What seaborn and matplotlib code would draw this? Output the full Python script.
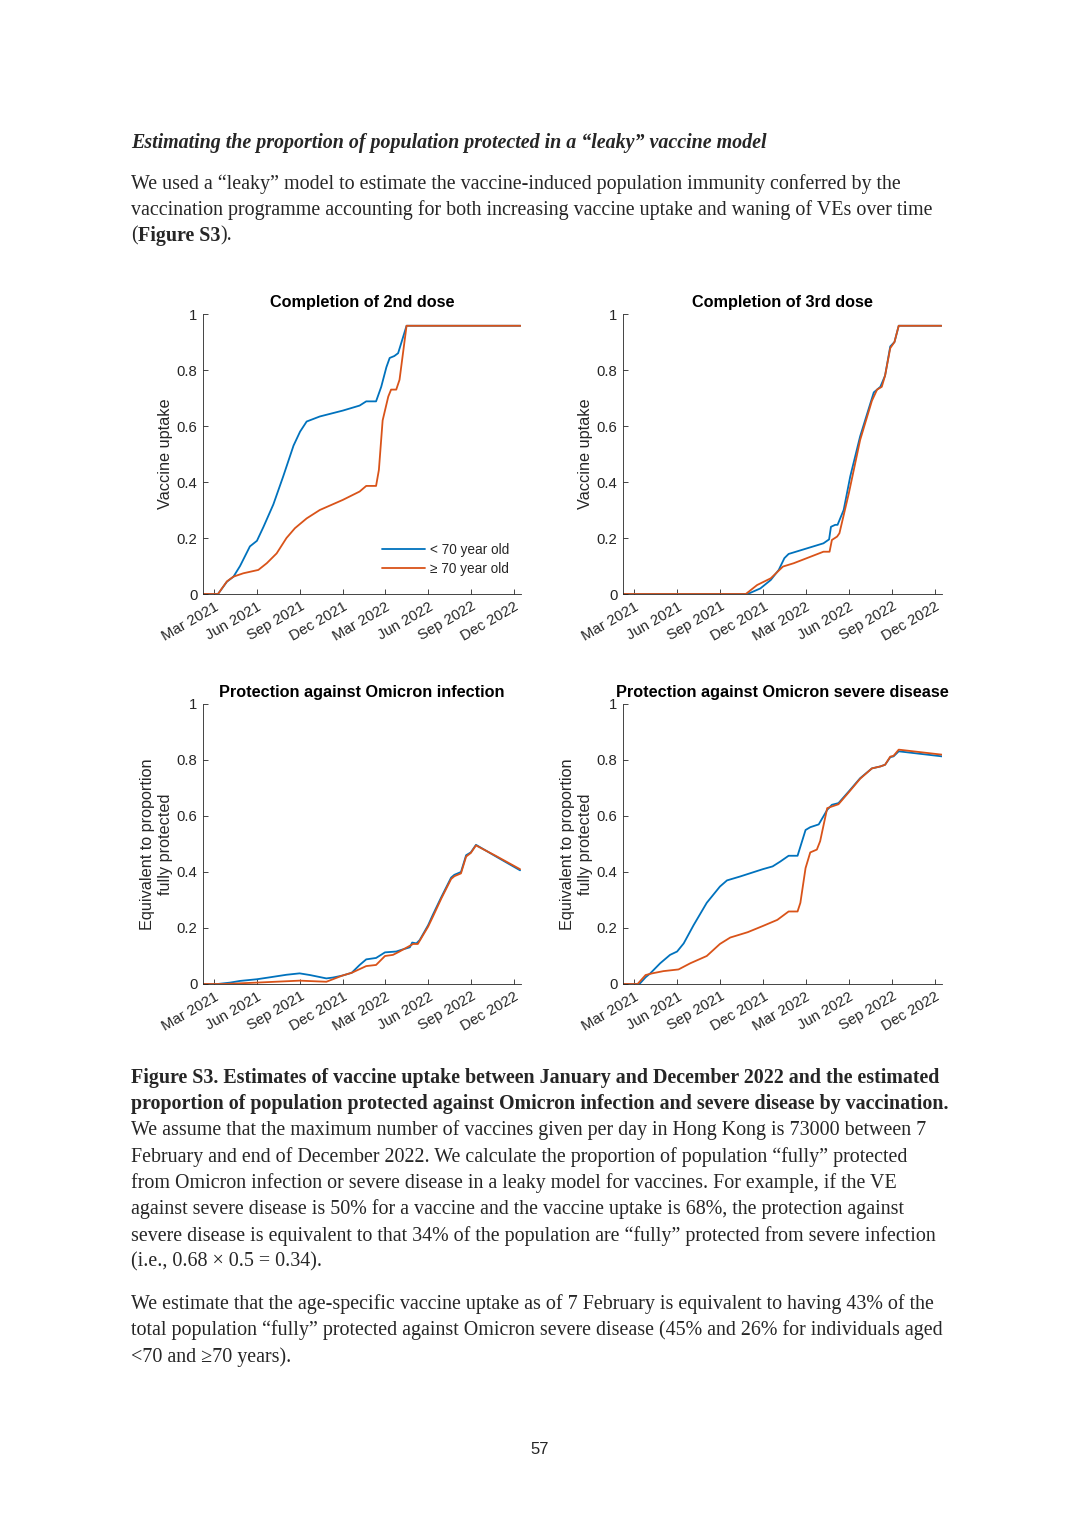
import pandas as pd
import matplotlib
matplotlib.use("Agg")
import matplotlib.pyplot as plt
import matplotlib.dates as mdates
import seaborn as sns

# ---- data (dates, proportion) ----
groups = ["< 70 year old", "\u2265 70 year old"]

dose2_lt70_dates = ["2021-02-06", "2021-03-10", "2021-03-29", "2021-04-12", "2021-04-26", "2021-05-17",
                    "2021-06-01", "2021-06-15", "2021-07-06", "2021-07-27", "2021-08-18", "2021-09-01",
                    "2021-09-15", "2021-10-13", "2021-12-01", "2022-01-06", "2022-01-20", "2022-02-10",
                    "2022-02-21", "2022-03-04", "2022-03-11", "2022-03-21", "2022-03-29", "2022-04-16",
                    "2022-12-15"]
dose2_lt70 = [0, 0, 0.044, 0.062, 0.10, 0.17, 0.19, 0.24, 0.32, 0.42, 0.53, 0.58, 0.616, 0.634, 0.655,
              0.673, 0.688, 0.688, 0.74, 0.81, 0.843, 0.85, 0.86, 0.958, 0.958]
dose2_ge70_dates = ["2021-02-06", "2021-03-10", "2021-03-29", "2021-04-12", "2021-05-03", "2021-06-04",
                    "2021-06-22", "2021-07-13", "2021-08-03", "2021-08-21", "2021-09-15", "2021-10-13",
                    "2021-12-01", "2022-01-06", "2022-01-20", "2022-02-10", "2022-02-16", "2022-02-24",
                    "2022-03-08", "2022-03-14", "2022-03-25", "2022-04-01", "2022-04-16", "2022-12-15"]
dose2_ge70 = [0, 0, 0.045, 0.062, 0.074, 0.086, 0.11, 0.145, 0.20, 0.235, 0.27, 0.30, 0.336, 0.366,
              0.386, 0.386, 0.443, 0.62, 0.705, 0.73, 0.73, 0.765, 0.958, 0.958]

dose3_lt70_dates = ["2021-02-06", "2021-10-29", "2021-11-25", "2021-12-17", "2022-01-03", "2022-01-15",
                    "2022-01-24", "2022-04-08", "2022-04-20", "2022-04-24", "2022-05-03", "2022-05-08",
                    "2022-05-21", "2022-06-04", "2022-06-25", "2022-07-24", "2022-08-07", "2022-08-17",
                    "2022-08-28", "2022-09-06", "2022-09-15", "2022-12-15"]
dose3_lt70 = [0, 0, 0.02, 0.05, 0.086, 0.128, 0.143, 0.181, 0.195, 0.24, 0.247, 0.247, 0.30, 0.42,
              0.563, 0.72, 0.74, 0.78, 0.884, 0.90, 0.958, 0.958]
dose3_ge70_dates = ["2021-02-06", "2021-10-25", "2021-11-18", "2021-12-17", "2022-01-12", "2022-02-04",
                    "2022-04-08", "2022-04-21", "2022-04-26", "2022-05-07", "2022-05-12", "2022-06-01",
                    "2022-06-25", "2022-07-20", "2022-07-31", "2022-08-10", "2022-08-17", "2022-08-28",
                    "2022-09-06", "2022-09-15", "2022-12-15"]
dose3_ge70 = [0, 0, 0.032, 0.056, 0.098, 0.11, 0.151, 0.151, 0.193, 0.205, 0.217, 0.36, 0.55, 0.69,
              0.73, 0.74, 0.78, 0.878, 0.90, 0.958, 0.958]

inf_lt70_dates = ["2021-02-06", "2021-03-09", "2021-04-05", "2021-04-26", "2021-06-01", "2021-06-29",
                  "2021-08-03", "2021-08-31", "2021-09-22", "2021-10-27", "2021-11-10", "2021-11-30",
                  "2021-12-20", "2022-01-06", "2022-01-20", "2022-02-10", "2022-03-01", "2022-03-25",
                  "2022-04-05", "2022-04-23", "2022-04-28", "2022-05-07", "2022-05-14", "2022-06-01",
                  "2022-06-11", "2022-06-29", "2022-07-20", "2022-07-27", "2022-08-10", "2022-08-21",
                  "2022-08-31", "2022-09-11", "2022-10-24", "2022-12-14"]
inf_lt70 = [0, 0, 0.005, 0.011, 0.017, 0.024, 0.033, 0.038, 0.032, 0.02, 0.023, 0.03, 0.04, 0.068,
            0.088, 0.093, 0.113, 0.116, 0.122, 0.131, 0.148, 0.145, 0.157, 0.21, 0.247, 0.31, 0.38,
            0.39, 0.40, 0.46, 0.47, 0.497, 0.455, 0.406]
inf_ge70_dates = ["2021-02-06", "2021-03-22", "2021-06-01", "2021-08-31", "2021-10-27", "2021-11-30",
                  "2021-12-20", "2022-01-20", "2022-02-10", "2022-03-01", "2022-03-18", "2022-04-01",
                  "2022-04-16", "2022-04-30", "2022-05-10", "2022-06-01", "2022-06-11", "2022-06-29",
                  "2022-07-20", "2022-07-27", "2022-08-10", "2022-08-21", "2022-08-31", "2022-09-11",
                  "2022-10-24", "2022-12-14"]
inf_ge70 = [0, 0, 0.005, 0.012, 0.008, 0.03, 0.04, 0.064, 0.068, 0.10, 0.104, 0.116, 0.13, 0.143,
            0.143, 0.205, 0.24, 0.305, 0.375, 0.385, 0.395, 0.455, 0.468, 0.495, 0.457, 0.41]

sev_lt70_dates = ["2021-02-06", "2021-03-13", "2021-03-26", "2021-04-05", "2021-04-26", "2021-05-17",
                  "2021-06-01", "2021-06-15", "2021-07-06", "2021-08-03", "2021-08-31", "2021-09-15",
                  "2021-10-13", "2021-11-30", "2021-12-21", "2022-01-06", "2022-01-24", "2022-02-12",
                  "2022-03-01", "2022-03-11", "2022-03-29", "2022-04-16", "2022-04-26", "2022-05-10",
                  "2022-06-01", "2022-06-25", "2022-07-20", "2022-08-07", "2022-08-17", "2022-08-28",
                  "2022-09-04", "2022-09-15", "2022-12-16"]
sev_lt70 = [0, 0, 0.024, 0.038, 0.074, 0.104, 0.116, 0.145, 0.21, 0.29, 0.348, 0.37, 0.384, 0.41,
            0.42, 0.437, 0.458, 0.458, 0.55, 0.56, 0.57, 0.622, 0.64, 0.646, 0.688, 0.735, 0.77,
            0.777, 0.783, 0.81, 0.813, 0.831, 0.813]
sev_ge70_dates = ["2021-02-06", "2021-03-09", "2021-03-26", "2021-04-09", "2021-05-03", "2021-06-04",
                  "2021-06-29", "2021-08-03", "2021-08-31", "2021-09-22", "2021-10-29", "2021-11-30",
                  "2021-12-31", "2022-01-24", "2022-02-12", "2022-02-18", "2022-03-01", "2022-03-11",
                  "2022-03-25", "2022-04-01", "2022-04-16", "2022-04-26", "2022-05-10", "2022-06-01",
                  "2022-06-25", "2022-07-20", "2022-08-07", "2022-08-17", "2022-08-28", "2022-09-04",
                  "2022-09-15", "2022-12-16"]
sev_ge70 = [0, 0, 0.032, 0.038, 0.046, 0.052, 0.074, 0.10, 0.143, 0.166, 0.185, 0.207, 0.229, 0.259,
            0.259, 0.29, 0.414, 0.47, 0.48, 0.51, 0.628, 0.634, 0.642, 0.685, 0.733, 0.77, 0.777,
            0.783, 0.812, 0.815, 0.837, 0.819]

titles = ["Completion of 2nd dose", "Completion of 3rd dose",
          "Protection against Omicron infection", "Protection against Omicron severe disease"]
ylabels = ["Vaccine uptake", "Vaccine uptake",
           "Equivalent to proportion\nfully protected", "Equivalent to proportion\nfully protected"]
yticks = [0, 0.2, 0.4, 0.6, 0.8, 1]
ytick_labels = ["0", "0.2", "0.4", "0.6", "0.8", "1"]

panels = [
    (dose2_lt70_dates, dose2_lt70, dose2_ge70_dates, dose2_ge70),
    (dose3_lt70_dates, dose3_lt70, dose3_ge70_dates, dose3_ge70),
    (inf_lt70_dates, inf_lt70, inf_ge70_dates, inf_ge70),
    (sev_lt70_dates, sev_lt70, sev_ge70_dates, sev_ge70),
]

sns.set_theme(style="white")
plt.rcParams["font.family"] = ["Liberation Sans", "DejaVu Sans"]

W, H = 1080, 1528
fig = plt.figure(figsize=(W / 100, H / 100), dpi=100)
fig.patch.set_facecolor("white")

def fx(x):
    return x / W

def fy(y):
    return 1 - y / H

# axes boxes in page pixels: left, top, right, bottom
boxes = [(203, 314, 521, 594), (623, 314, 942, 594), (203, 704, 521, 984), (623, 704, 942, 984)]
palette = ["#0072BD", "#D95319"]
axis_col = "#262626"

for i, (d1, v1, d2, v2) in enumerate(panels):
    l, t, r, b = boxes[i]
    ax = fig.add_axes([fx(l), fy(b), fx(r - l), (b - t) / H])
    df = pd.concat([
        pd.DataFrame({"date": pd.to_datetime(d1), "value": v1, "group": groups[0]}),
        pd.DataFrame({"date": pd.to_datetime(d2), "value": v2, "group": groups[1]}),
    ])
    sns.lineplot(data=df, x="date", y="value", hue="group", hue_order=groups, palette=palette,
                 estimator=None, linewidth=1.3, legend=False, ax=ax)
    ax.set_xlim(pd.Timestamp("2021-02-06"), pd.Timestamp("2022-12-16"))
    ax.set_ylim(0, 1)
    ax.set_yticks(yticks)
    ax.set_yticklabels(ytick_labels)
    ax.xaxis.set_major_locator(mdates.MonthLocator(bymonth=[3, 6, 9, 12]))
    ax.xaxis.set_major_formatter(mdates.DateFormatter("%b %Y"))
    for lab in ax.get_xticklabels():
        lab.set_rotation(30)
        lab.set_ha("right")
        lab.set_rotation_mode("anchor")
    ax.tick_params(direction="in", length=3.5, width=0.6, colors=axis_col, labelsize=10.7,
                   pad=4, left=True, bottom=True)
    for s in ["top", "right"]:
        ax.spines[s].set_visible(False)
    for s in ["left", "bottom"]:
        ax.spines[s].set_color(axis_col)
        ax.spines[s].set_linewidth(0.6)
    ax.set_facecolor("white")
    ax.set_xlabel("")
    ax.set_ylabel(ylabels[i], fontsize=11.7, color=axis_col, labelpad=3)
    ax.set_title(titles[i], fontsize=11.7, fontweight="bold", color="black", pad=5)
    if i == 0:
        ax.legend(handles=ax.lines[:2], labels=groups, loc="lower right", frameon=False,
                  fontsize=9.8, handlelength=3.2, handletextpad=0.3, labelspacing=0.4,
                  bbox_to_anchor=(1.0, 0.02), labelcolor=axis_col)

# ---- page text ----
serif = ["Liberation Serif", "DejaVu Serif"]
body_fs = 14.4
left = 131

fig.text(fx(left), fy(143), "Estimating the proportion of population protected in a \u201cleaky\u201d vaccine model",
         family=serif, fontsize=body_fs, fontweight="bold", style="italic", va="center")

body = ["We used a \u201cleaky\u201d model to estimate the vaccine-induced population immunity conferred by the",
        "vaccination programme accounting for both increasing vaccine uptake and waning of VEs over time"]
for k, line in enumerate(body):
    fig.text(fx(left), fy(184 + 26 * k), line, family=serif, fontsize=body_fs, va="center")

# "(Figure S3)." with the bold part
renderer = fig.canvas.get_renderer()
x = fx(left)
for piece, wt in [("(", "normal"), ("Figure S3", "bold"), (").", "normal")]:
    t = fig.text(x, fy(236), piece, family=serif, fontsize=body_fs, fontweight=wt, va="center")
    bb = t.get_window_extent(renderer)
    x += bb.width / W

caption_bold = ["Figure S3. Estimates of vaccine uptake between January and December 2022 and the estimated",
                "proportion of population protected against Omicron infection and severe disease by vaccination."]
for k, line in enumerate(caption_bold):
    fig.text(fx(left), fy(1078 + 26.3 * k), line, family=serif, fontsize=body_fs, fontweight="bold", va="center")

caption = ["We assume that the maximum number of vaccines given per day in Hong Kong is 73000 between 7",
           "February and end of December 2022. We calculate the proportion of population \u201cfully\u201d protected",
           "from Omicron infection or severe disease in a leaky model for vaccines. For example, if the VE",
           "against severe disease is 50% for a vaccine and the vaccine uptake is 68%, the protection against",
           "severe disease is equivalent to that 34% of the population are \u201cfully\u201d protected from severe infection",
           "(i.e., 0.68 \u00d7 0.5 = 0.34)."]
for k, line in enumerate(caption):
    fig.text(fx(left), fy(1130.5 + 26.3 * k), line, family=serif, fontsize=body_fs, va="center")

para = ["We estimate that the age-specific vaccine uptake as of 7 February is equivalent to having 43% of the",
        "total population \u201cfully\u201d protected against Omicron severe disease (45% and 26% for individuals aged",
        "<70 and \u226570 years)."]
for k, line in enumerate(para):
    fig.text(fx(left), fy(1304 + 26.5 * k), line, family=serif, fontsize=body_fs, va="center")

fig.text(fx(540), fy(1450), "57", family=["Liberation Sans", "DejaVu Sans"], fontsize=12, ha="center", va="center")

fig.savefig("out.png", dpi=100, facecolor="white")
